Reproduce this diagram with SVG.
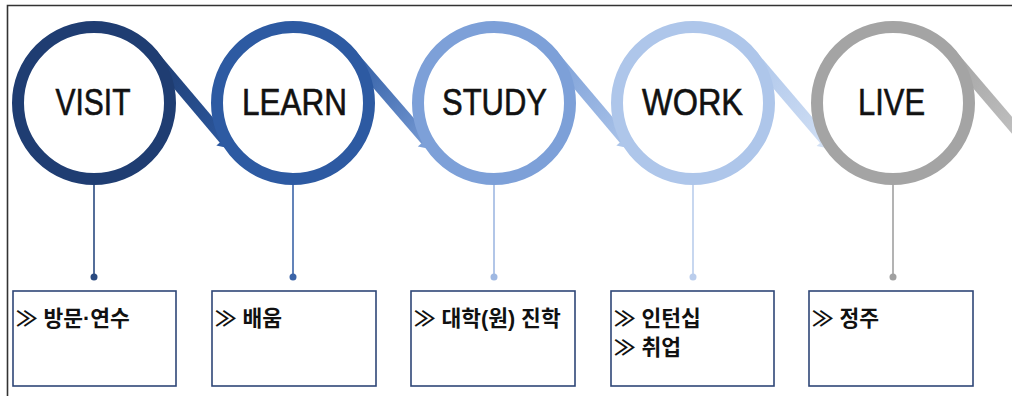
<svg xmlns="http://www.w3.org/2000/svg" width="1012" height="396" viewBox="0 0 1012 396">
<style>
.ring{fill:#fff;stroke-width:12}
.band{fill:none;stroke-width:11;stroke-linecap:butt}
.lbl{font-family:"Liberation Sans",Arial,sans-serif;font-size:37px;fill:#111;text-anchor:middle;stroke:#111;stroke-width:0.6}
.box{fill:#fff;stroke:#2f4677;stroke-width:1.6}
.txt{font-family:"Liberation Sans","Noto Sans CJK KR",sans-serif;font-size:21.5px;font-weight:bold;fill:#111}
.stem{stroke-width:1.6}
</style>
<defs>
<linearGradient id="g1" gradientUnits="userSpaceOnUse" x1="152" y1="54" x2="235" y2="152"><stop offset="0" stop-color="#1f3d72"/><stop offset="1" stop-color="#2d5aa2"/></linearGradient>
<linearGradient id="g2" gradientUnits="userSpaceOnUse" x1="350" y1="53" x2="437" y2="153"><stop offset="0" stop-color="#2d5aa2"/><stop offset="1" stop-color="#7da0d8"/></linearGradient>
<linearGradient id="g3" gradientUnits="userSpaceOnUse" x1="552" y1="54" x2="635" y2="152"><stop offset="0" stop-color="#7da0d8"/><stop offset="1" stop-color="#aec6ea"/></linearGradient>
<linearGradient id="g4" gradientUnits="userSpaceOnUse" x1="751" y1="54" x2="835" y2="152"><stop offset="0" stop-color="#aec6ea"/><stop offset="1" stop-color="#d3e1f5"/></linearGradient>
<linearGradient id="g5" gradientUnits="userSpaceOnUse" x1="951" y1="54" x2="1030" y2="146"><stop offset="0" stop-color="#a4a4a4"/><stop offset="1" stop-color="#c4c4c4"/></linearGradient>
</defs>
<path d="M7.5,396 V5.5 H1012" fill="none" stroke="#333" stroke-width="1.6"/>
<g id="connectors">
<path class="band" stroke="url(#g1)" d="M152.05,53.95 L225.27,140.59"/>
<polygon fill="#2d5aa2" points="232.37,148.99 231.62,132.61 216.34,145.51"/>
<path class="band" stroke="url(#g2)" d="M350.47,53.27 L426.71,141.38"/>
<polygon fill="#7da0d8" points="433.91,149.70 432.96,133.33 417.84,146.41"/>
<path class="band" stroke="url(#g3)" d="M552.05,53.95 L625.27,140.59"/>
<polygon fill="#aec6ea" points="632.37,148.99 631.62,132.61 616.34,145.51"/>
<path class="band" stroke="url(#g4)" d="M750.76,53.61 L825.49,140.99"/>
<polygon fill="#d3e1f5" points="832.64,149.35 831.79,132.97 816.59,145.97"/>
<path class="band" stroke="url(#g5)" d="M950.76,53.61 L1030,146.3"/>
<line class="stem" x1="94" y1="185" x2="94" y2="277" stroke="#2a4a80"/>
<circle cx="94" cy="277" r="3.5" fill="#2a4a80"/>
<line class="stem" x1="293" y1="185" x2="293" y2="277" stroke="#3b64a8"/>
<circle cx="293" cy="277" r="3.5" fill="#3b64a8"/>
<line class="stem" x1="494" y1="185" x2="494" y2="277" stroke="#9fb8e2"/>
<circle cx="494" cy="277" r="3.5" fill="#9fb8e2"/>
<line class="stem" x1="693" y1="185" x2="693" y2="277" stroke="#bacdec"/>
<circle cx="693" cy="277" r="3.5" fill="#bacdec"/>
<line class="stem" x1="893" y1="185" x2="893" y2="277" stroke="#a0a0a0"/>
<circle cx="893" cy="277" r="3.5" fill="#a0a0a0"/>
</g>
<g id="visit">
<circle class="ring" cx="94" cy="103" r="76" stroke="#1f3d72"/>
<text class="lbl" x="93" y="115" textLength="75" lengthAdjust="spacingAndGlyphs">VISIT</text>
</g>
<g id="learn">
<circle class="ring" cx="293" cy="103" r="76" stroke="#2d5aa2"/>
<text class="lbl" x="294.5" y="115" textLength="105" lengthAdjust="spacingAndGlyphs">LEARN</text>
</g>
<g id="study">
<circle class="ring" cx="494" cy="103" r="76" stroke="#7da0d8"/>
<text class="lbl" x="494.5" y="115" textLength="105" lengthAdjust="spacingAndGlyphs">STUDY</text>
</g>
<g id="work">
<circle class="ring" cx="693" cy="103" r="76" stroke="#aec6ea"/>
<text class="lbl" x="692.5" y="115" textLength="101" lengthAdjust="spacingAndGlyphs">WORK</text>
</g>
<g id="live">
<circle class="ring" cx="893" cy="103" r="76" stroke="#a4a4a4"/>
<text class="lbl" x="891.5" y="115" textLength="67" lengthAdjust="spacingAndGlyphs">LIVE</text>
</g>
<g id="box-visit">
<rect class="box" x="13" y="291" width="163" height="95"/>
<text class="txt" x="16" y="326">≫ 방문·연수</text>
</g>
<g id="box-learn">
<rect class="box" x="212" y="291" width="164" height="95"/>
<text class="txt" x="215" y="326">≫ 배움</text>
</g>
<g id="box-study">
<rect class="box" x="411" y="291" width="164" height="95"/>
<text class="txt" x="414" y="326">≫ 대학(원) 진학</text>
</g>
<g id="box-work">
<rect class="box" x="611" y="291" width="163" height="95"/>
<text class="txt" x="614" y="326">≫ 인턴십</text>
<text class="txt" x="614" y="355">≫ 취업</text>
</g>
<g id="box-live">
<rect class="box" x="809" y="291" width="164" height="95"/>
<text class="txt" x="812" y="326">≫ 정주</text>
</g>
</svg>
